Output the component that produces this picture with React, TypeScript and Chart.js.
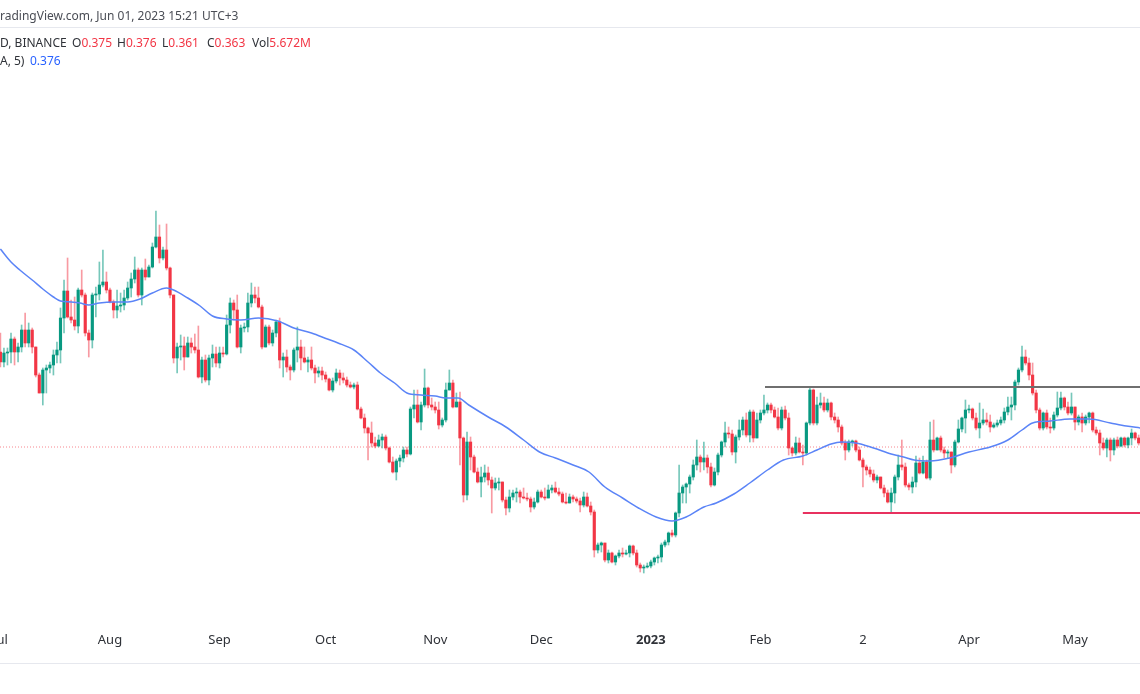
import React, { useEffect, useRef } from "react";
import { Chart, registerables } from "chart.js";

Chart.register(...registerables);

// Daily candles, day 0 = 1 Jul 2022 (open of each day = previous close)
const firstOpen = 0.458;
const closes = [
  0.448,0.457,0.458,0.471,0.458,0.463,0.480,0.467,0.480,0.463,
  0.435,0.417,0.440,0.442,0.445,0.455,0.460,0.492,0.519,0.493,
  0.490,0.484,0.520,0.515,0.477,0.470,0.515,0.516,0.525,0.528,
  0.520,0.508,0.500,0.504,0.505,0.512,0.522,0.531,0.540,0.515,
  0.540,0.533,0.543,0.563,0.573,0.552,0.560,0.542,0.515,0.452,
  0.463,0.464,0.453,0.467,0.463,0.460,0.433,0.450,0.430,0.452,
  0.456,0.447,0.457,0.456,0.485,0.507,0.500,0.463,0.482,0.483,
  0.507,0.515,0.512,0.503,0.463,0.483,0.467,0.477,0.488,0.450,
  0.453,0.443,0.440,0.460,0.463,0.452,0.448,0.450,0.442,0.437,
  0.439,0.435,0.431,0.420,0.429,0.437,0.432,0.430,0.425,0.423,
  0.425,0.401,0.392,0.382,0.377,0.367,0.364,0.370,0.373,0.362,
  0.348,0.338,0.349,0.352,0.360,0.356,0.401,0.405,0.388,0.405,
  0.422,0.405,0.403,0.400,0.385,0.390,0.420,0.427,0.403,0.408,
  0.372,0.315,0.368,0.353,0.338,0.328,0.333,0.337,0.330,0.322,
  0.327,0.328,0.310,0.302,0.313,0.317,0.318,0.313,0.312,0.311,
  0.303,0.308,0.318,0.313,0.312,0.320,0.322,0.318,0.316,0.308,
  0.307,0.313,0.311,0.309,0.305,0.313,0.304,0.298,0.260,0.265,
  0.267,0.250,0.257,0.248,0.254,0.257,0.256,0.257,0.264,0.257,
  0.245,0.242,0.243,0.244,0.248,0.252,0.253,0.265,0.268,0.277,
  0.275,0.297,0.317,0.323,0.326,0.333,0.345,0.353,0.348,0.352,
  0.343,0.325,0.338,0.355,0.368,0.377,0.376,0.358,0.373,0.380,
  0.390,0.375,0.398,0.372,0.390,0.397,0.400,0.405,0.400,0.393,
  0.382,0.400,0.392,0.362,0.357,0.367,0.358,0.357,0.387,0.420,
  0.387,0.405,0.407,0.400,0.407,0.393,0.390,0.383,0.367,0.360,
  0.368,0.369,0.360,0.350,0.343,0.340,0.336,0.330,0.333,0.322,
  0.317,0.308,0.317,0.333,0.345,0.343,0.325,0.323,0.328,0.347,
  0.337,0.348,0.332,0.370,0.360,0.372,0.360,0.357,0.358,0.345,
  0.368,0.381,0.392,0.400,0.401,0.392,0.382,0.387,0.390,0.388,
  0.383,0.385,0.387,0.390,0.398,0.403,0.405,0.428,0.440,0.453,
  0.447,0.435,0.417,0.400,0.382,0.397,0.383,0.382,0.395,0.402,
  0.412,0.403,0.397,0.403,0.388,0.393,0.387,0.393,0.397,0.380,
  0.377,0.367,0.362,0.370,0.360,0.370,0.364,0.372,0.365,0.372,
  0.377,0.372,0.367,
];
const highs = [
  0.477,0.462,0.462,0.477,0.473,0.467,0.485,0.497,0.487,0.482,
  0.463,0.437,0.442,0.445,0.448,0.460,0.468,0.502,0.530,0.552,
  0.510,0.513,0.522,0.540,0.517,0.480,0.517,0.523,0.548,0.560,
  0.538,0.522,0.510,0.520,0.517,0.520,0.528,0.537,0.553,0.542,
  0.542,0.551,0.545,0.567,0.599,0.585,0.563,0.586,0.543,0.515,
  0.467,0.475,0.473,0.473,0.472,0.476,0.484,0.453,0.455,0.455,
  0.465,0.463,0.463,0.463,0.495,0.512,0.510,0.515,0.485,0.487,
  0.517,0.527,0.523,0.523,0.505,0.485,0.485,0.480,0.490,0.492,
  0.457,0.460,0.445,0.462,0.483,0.470,0.463,0.453,0.463,0.445,
  0.443,0.443,0.438,0.432,0.432,0.441,0.440,0.437,0.433,0.428,
  0.427,0.428,0.403,0.396,0.383,0.388,0.373,0.375,0.376,0.375,
  0.363,0.353,0.351,0.355,0.363,0.363,0.403,0.420,0.420,0.408,
  0.441,0.423,0.412,0.408,0.408,0.392,0.427,0.440,0.430,0.417,
  0.418,0.373,0.378,0.373,0.355,0.342,0.343,0.345,0.343,0.333,
  0.332,0.332,0.327,0.313,0.320,0.320,0.322,0.320,0.322,0.317,
  0.313,0.312,0.320,0.320,0.322,0.325,0.325,0.328,0.322,0.318,
  0.317,0.316,0.315,0.313,0.312,0.318,0.317,0.308,0.300,0.267,
  0.268,0.267,0.260,0.258,0.255,0.260,0.262,0.260,0.265,0.265,
  0.260,0.247,0.245,0.247,0.250,0.253,0.255,0.267,0.270,0.278,
  0.280,0.298,0.345,0.325,0.327,0.335,0.350,0.370,0.355,0.368,
  0.355,0.347,0.342,0.357,0.369,0.388,0.383,0.380,0.375,0.390,
  0.393,0.397,0.400,0.400,0.397,0.400,0.415,0.407,0.407,0.403,
  0.402,0.403,0.404,0.397,0.363,0.373,0.372,0.365,0.388,0.422,
  0.421,0.413,0.417,0.413,0.411,0.408,0.397,0.393,0.385,0.370,
  0.370,0.370,0.370,0.363,0.352,0.345,0.343,0.340,0.335,0.333,
  0.325,0.320,0.322,0.335,0.355,0.370,0.347,0.327,0.333,0.354,
  0.352,0.354,0.350,0.388,0.390,0.373,0.374,0.363,0.360,0.358,
  0.370,0.390,0.393,0.410,0.405,0.402,0.397,0.407,0.401,0.397,
  0.395,0.387,0.390,0.393,0.402,0.413,0.413,0.430,0.442,0.464,
  0.460,0.452,0.447,0.420,0.402,0.398,0.400,0.392,0.398,0.418,
  0.418,0.413,0.408,0.417,0.398,0.395,0.397,0.395,0.398,0.398,
  0.383,0.380,0.372,0.372,0.372,0.372,0.373,0.373,0.373,0.373,
  0.381,0.378,0.375,
];
const lows = [
  0.443,0.443,0.445,0.447,0.445,0.448,0.458,0.463,0.463,0.457,
  0.433,0.417,0.405,0.417,0.437,0.435,0.447,0.447,0.477,0.492,
  0.487,0.480,0.477,0.513,0.474,0.453,0.462,0.493,0.510,0.523,
  0.517,0.507,0.492,0.492,0.498,0.500,0.510,0.513,0.527,0.513,
  0.505,0.530,0.533,0.542,0.562,0.547,0.550,0.540,0.512,0.447,
  0.437,0.450,0.440,0.453,0.457,0.457,0.432,0.427,0.428,0.425,
  0.443,0.443,0.442,0.453,0.455,0.477,0.490,0.462,0.457,0.478,
  0.478,0.503,0.507,0.502,0.461,0.463,0.465,0.464,0.473,0.442,
  0.433,0.438,0.430,0.438,0.448,0.440,0.447,0.438,0.440,0.427,
  0.433,0.430,0.428,0.419,0.418,0.427,0.425,0.427,0.423,0.422,
  0.421,0.400,0.391,0.377,0.350,0.363,0.362,0.363,0.362,0.360,
  0.347,0.337,0.330,0.343,0.348,0.353,0.355,0.392,0.387,0.380,
  0.403,0.402,0.400,0.397,0.381,0.383,0.388,0.420,0.402,0.403,
  0.345,0.308,0.310,0.340,0.337,0.327,0.313,0.328,0.325,0.297,
  0.320,0.320,0.308,0.295,0.298,0.310,0.308,0.307,0.311,0.309,
  0.298,0.301,0.307,0.312,0.310,0.315,0.317,0.317,0.314,0.307,
  0.306,0.307,0.308,0.307,0.298,0.303,0.303,0.295,0.253,0.257,
  0.258,0.248,0.247,0.247,0.245,0.252,0.253,0.255,0.253,0.255,
  0.243,0.238,0.237,0.242,0.242,0.245,0.247,0.248,0.263,0.265,
  0.273,0.273,0.293,0.307,0.307,0.317,0.330,0.340,0.338,0.340,
  0.337,0.323,0.324,0.335,0.353,0.363,0.372,0.355,0.347,0.370,
  0.375,0.373,0.368,0.368,0.372,0.387,0.395,0.397,0.397,0.392,
  0.380,0.380,0.390,0.355,0.354,0.355,0.357,0.345,0.355,0.385,
  0.385,0.385,0.402,0.398,0.398,0.390,0.387,0.378,0.365,0.350,
  0.358,0.364,0.358,0.349,0.323,0.335,0.333,0.328,0.327,0.321,
  0.313,0.307,0.297,0.307,0.330,0.340,0.323,0.320,0.317,0.323,
  0.336,0.336,0.331,0.330,0.358,0.360,0.358,0.352,0.352,0.337,
  0.343,0.367,0.378,0.377,0.397,0.390,0.380,0.372,0.385,0.385,
  0.378,0.382,0.383,0.385,0.387,0.395,0.390,0.400,0.425,0.438,
  0.445,0.430,0.415,0.397,0.380,0.380,0.381,0.377,0.380,0.393,
  0.400,0.400,0.395,0.395,0.380,0.385,0.378,0.385,0.387,0.378,
  0.375,0.355,0.360,0.353,0.349,0.355,0.362,0.363,0.363,0.362,
  0.365,0.370,0.365,
];

// Moving average line, read at sample days
const maDays = [
  0,3,5.5,9,12,15,17,20,22.5,25,28,32,36,39.5,43,47,49,53,56.5,60,
  64,68,73,78.5,83,88,92.5,95.5,100,104,107.5,111.5,115,119,123,126,129.5,132.5,138,143,
  148,152.5,157,162,166.5,171,176,180.5,185.5,190,194,199,202.5,207.5,212,217,221.5,227,231,235,
  238,242,247,252,255.5,258.5,263,268.5,274,280,285,289,292,297,302.5,308,314,318.5,322.5,
];
const maValues = [
  0.561,0.548,0.540,0.530,0.521,0.513,0.509,0.508,0.507,0.505,0.507,0.508,0.508,0.511,0.517,0.522,0.520,0.512,0.504,0.494,
  0.491,0.490,0.492,0.489,0.482,0.477,0.471,0.467,0.460,0.448,0.437,0.427,0.417,0.415,0.414,0.412,0.412,0.405,0.393,0.383,
  0.370,0.358,0.352,0.345,0.338,0.323,0.312,0.302,0.293,0.289,0.293,0.303,0.307,0.316,0.327,0.340,0.350,0.354,0.360,0.366,
  0.368,0.367,0.362,0.356,0.353,0.350,0.349,0.352,0.358,0.363,0.370,0.380,0.387,0.389,0.391,0.391,0.387,0.384,0.382,
];

const tickDays = [0, 31, 62, 92, 123, 153, 184, 215, 244, 274, 304];
const tickLabels = ["Jul", "Aug", "Sep", "Oct", "Nov", "Dec", "2023", "Feb", "2", "Apr", "May"];

const resistanceLevel = 0.423;
const resistanceStartDay = 216.3;
const supportLevel = 0.297;
const supportStartDay = 227;
const lastPrice = 0.363;

const X_MIN = -0.113;
const X_MAX = 322.38;
const Y_MIN = 0.188;
const Y_MAX = 0.81;

const UP = "#089981";
const DOWN = "#F23645";
const UP_WICK = "rgba(8,153,129,0.55)";
const DOWN_WICK = "rgba(242,54,69,0.5)";
const FONT = "'Noto Sans', sans-serif";

export default function App() {
  const ref = useRef<HTMLCanvasElement | null>(null);

  useEffect(() => {
    const canvas = ref.current;
    if (!canvas) return;
    const opens = closes.map((_, i) => (i === 0 ? firstOpen : closes[i - 1]));
    const up = closes.map((c, i) => c >= opens[i]);
    const days = closes.map((_, i) => i);

    const chart = new Chart(canvas, {
      type: "bar",
      data: {
        datasets: [
          {
            type: "line",
            label: "last",
            data: [
              { x: X_MIN, y: lastPrice },
              { x: X_MAX, y: lastPrice },
            ],
            borderColor: "rgba(242,54,69,0.6)",
            borderWidth: 1,
            borderDash: [1, 2],
            pointRadius: 0,
            order: 6,
          } as any,
          {
            type: "bar",
            label: "wicks",
            data: days.map((d, i) => ({
              x: d,
              y: [Math.min(lows[i], opens[i], closes[i]), Math.max(highs[i], opens[i], closes[i])],
            })),
            backgroundColor: up.map((u) => (u ? UP_WICK : DOWN_WICK)),
            barThickness: 1,
            grouped: false,
            order: 5,
          } as any,
          {
            type: "bar",
            label: "bodies",
            data: days.map((d, i) => ({ x: d, y: [opens[i], closes[i]] })),
            backgroundColor: up.map((u) => (u ? UP : DOWN)),
            barThickness: 2.5,
            minBarLength: 1,
            grouped: false,
            order: 4,
          } as any,
          {
            type: "line",
            label: "MA",
            data: maDays.map((d, i) => ({ x: d, y: maValues[i] })),
            borderColor: "#5b84f7",
            borderWidth: 1.5,
            pointRadius: 0,
            cubicInterpolationMode: "monotone",
            order: 3,
          } as any,
          {
            type: "line",
            label: "resistance",
            data: [
              { x: resistanceStartDay, y: resistanceLevel },
              { x: X_MAX, y: resistanceLevel },
            ],
            borderColor: "#6f6f6f",
            borderWidth: 2,
            pointRadius: 0,
            order: 1,
          } as any,
          {
            type: "line",
            label: "support",
            data: [
              { x: supportStartDay, y: supportLevel },
              { x: X_MAX, y: supportLevel },
            ],
            borderColor: "#e8315f",
            borderWidth: 2,
            pointRadius: 0,
            order: 1,
          } as any,
        ],
      },
      options: {
        responsive: false,
        animation: false,
        devicePixelRatio: 1,
        layout: { padding: 0 },
        plugins: { legend: { display: false }, tooltip: { enabled: false } },
        scales: {
          x: {
            type: "linear",
            min: X_MIN,
            max: X_MAX,
            offset: false,
            grid: { display: false },
            border: { display: false },
            afterBuildTicks: (s: any) => {
              s.ticks = tickDays.map((v) => ({ value: v }));
            },
            afterFit: (s: any) => {
              s.height = 72;
              s.paddingLeft = 0;
              s.paddingRight = 0;
            },
            ticks: {
              autoSkip: false,
              maxRotation: 0,
              minRotation: 0,
              padding: 2,
              color: "#2f3238",
              font: (ctx: any) => ({
                family: FONT,
                size: 13,
                weight: ctx.tick && ctx.tick.value === 184 ? "bold" : "normal",
              }),
              callback: (v: any) => {
                const i = tickDays.indexOf(Number(v));
                return i >= 0 ? tickLabels[i] : "";
              },
            },
          } as any,
          y: { type: "linear", display: false, min: Y_MIN, max: Y_MAX },
        },
      } as any,
    });
    return () => chart.destroy();
  }, []);

  const dark = "#2f3238";
  const red = "#F23645";
  const txt: React.CSSProperties = {
    position: "absolute",
    fontSize: 12,
    lineHeight: "16px",
    whiteSpace: "nowrap",
    fontFamily: FONT,
  };

  return (
    <div
      style={{
        position: "fixed",
        left: 0,
        top: 0,
        width: 1140,
        height: 694,
        background: "#ffffff",
        overflow: "hidden",
        fontFamily: FONT,
      }}
    >
      <canvas ref={ref} width={1140} height={694} style={{ position: "absolute", left: 0, top: 0 }} />
      <div style={{ ...txt, left: 0, top: 8, color: "#4a4d55" }}>radingView.com, Jun 01, 2023 15:21 UTC+3</div>
      <div style={{ position: "absolute", left: 0, top: 27, width: 1140, height: 1, background: "#e6e8ee" }} />
      <div style={{ ...txt, left: 0, top: 35, color: dark }}>D, BINANCE</div>
      <div style={{ ...txt, left: 72, top: 35, color: dark }}>O<span style={{ color: red }}>0.375</span></div>
      <div style={{ ...txt, left: 117, top: 35, color: dark }}>H<span style={{ color: red }}>0.376</span></div>
      <div style={{ ...txt, left: 162, top: 35, color: dark }}>L<span style={{ color: red }}>0.361</span></div>
      <div style={{ ...txt, left: 207, top: 35, color: dark }}>C<span style={{ color: red }}>0.363</span></div>
      <div style={{ ...txt, left: 252, top: 35, color: dark }}>Vol<span style={{ color: red }}>5.672M</span></div>
      <div style={{ ...txt, left: 0, top: 53, color: dark }}>A, 5)</div>
      <div style={{ ...txt, left: 30, top: 53, color: "#2962FF" }}>0.376</div>
      <div style={{ position: "absolute", left: 0, top: 663, width: 1140, height: 1, background: "#e6e8ee" }} />
    </div>
  );
}
